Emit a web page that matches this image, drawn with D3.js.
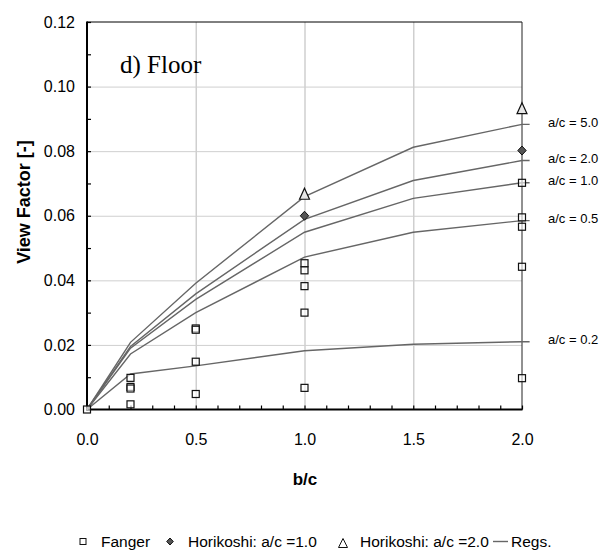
<!DOCTYPE html>
<html lang="en">
<head>
<meta charset="UTF-8">
<title>View Factor - Floor</title>
<script src="https://d3js.org/d3.v7.min.js"></script>
<style>
    body { margin: 0; background: #fff; }
    svg { display: block; }
    text { font-family: Arial, "Liberation Sans", sans-serif; fill: #000; }
    text.panel { font-family: "Times New Roman", "Liberation Serif", serif; }
</style>
</head>
<body>
<svg width="609" height="559"></svg>
<script>
    // b/c positions of the regression curves
    const bc = [0, 0.2, 0.5, 1.0, 1.5, 2.0];
    const regLabels = ["a/c = 5.0", "a/c = 2.0", "a/c = 1.0", "a/c = 0.5", "a/c = 0.2"];
    const reg50 = [0, 0.0208, 0.0391, 0.0659, 0.0812, 0.0883];
    const reg20 = [0, 0.0195, 0.0358, 0.0589, 0.0709, 0.0771];
    const reg10 = [0, 0.0190, 0.0341, 0.0549, 0.0654, 0.0702];
    const reg05 = [0, 0.0172, 0.0300, 0.0472, 0.0549, 0.0585];
    const reg02 = [0, 0.0110, 0.0135, 0.0182, 0.0202, 0.0210];

    // Fanger measurements
    const fangerBC = [0, 0.2, 0.2, 0.2, 0.2, 0.5, 0.5, 0.5, 0.5,
                      1.0, 1.0, 1.0, 1.0, 1.0, 2.0, 2.0, 2.0, 2.0, 2.0];
    const fangerVF = [0, 0.0098, 0.0070, 0.0065, 0.0016, 0.0251, 0.0247, 0.0148, 0.0048,
                      0.0453, 0.0431, 0.0382, 0.0300, 0.0067, 0.0702, 0.0595, 0.0566, 0.0442, 0.0097];

    // Horikoshi
    const horiBC = [1.0, 2.0];
    const hori10 = [0.0600, 0.0802];
    const hori20 = [0.0665, 0.0930];

    const xTicks = [0, 0.5, 1.0, 1.5, 2.0];
    const yTicks = [0, 0.02, 0.04, 0.06, 0.08, 0.10, 0.12];

    const svg = d3.select("svg");
    const mLeft = 87, mRight = 522, mTop = 22, mBottom = 409.5;

    const x = d3.scaleLinear().domain([0, 2]).range([mLeft, mRight]);
    const y = d3.scaleLinear().domain([0, 0.12]).range([mBottom, mTop]);

    // grid
    svg.append("g")
        .attr("transform", `translate(0,${mBottom})`)
        .call(d3.axisBottom(x).tickValues([0.5, 1.0, 1.5]).tickSize(-(mBottom - mTop)).tickFormat(""))
        .call(g => g.select(".domain").remove())
        .call(g => g.selectAll("line").attr("stroke", "#cfcfcf").attr("stroke-width", 1.5));
    svg.append("g")
        .attr("transform", `translate(${mLeft},0)`)
        .call(d3.axisLeft(y).tickValues([0.02, 0.04, 0.06, 0.08, 0.10]).tickSize(-(mRight - mLeft)).tickFormat(""))
        .call(g => g.select(".domain").remove())
        .call(g => g.selectAll("line").attr("stroke", "#cfcfcf").attr("stroke-width", 1));

    // frame (top and right)
    svg.append("line").attr("x1", mLeft).attr("x2", mRight).attr("y1", mTop).attr("y2", mTop)
        .attr("stroke", "#000").attr("stroke-width", 1);
    svg.append("line").attr("x1", mRight).attr("x2", mRight).attr("y1", mTop).attr("y2", mBottom)
        .attr("stroke", "#222").attr("stroke-width", 1);

    // minor ticks (inside)
    svg.append("g")
        .attr("transform", `translate(0,${mBottom})`)
        .call(d3.axisBottom(x).tickValues(d3.range(0, 2.001, 0.1)).tickSize(-4).tickFormat(""))
        .call(g => g.select(".domain").remove())
        .call(g => g.selectAll("line").attr("stroke", "#000").attr("stroke-width", 1.2));
    svg.append("g")
        .attr("transform", `translate(${mLeft},0)`)
        .call(d3.axisLeft(y).tickValues(d3.range(0, 0.1201, 0.01)).tickSize(-4).tickFormat(""))
        .call(g => g.select(".domain").remove())
        .call(g => g.selectAll("line").attr("stroke", "#000").attr("stroke-width", 1.2));

    // axis labels
    const xAxis = svg.append("g")
        .attr("transform", `translate(0,${mBottom})`)
        .call(d3.axisBottom(x).tickValues(xTicks).tickSize(0).tickPadding(24).tickFormat(d3.format(".1f")));
    xAxis.select(".domain").remove();
    xAxis.selectAll("text").attr("font-size", 16);

    const yAxis = svg.append("g")
        .attr("transform", `translate(${mLeft},0)`)
        .call(d3.axisLeft(y).tickValues(yTicks).tickSize(0).tickPadding(12).tickFormat(d3.format(".2f")));
    yAxis.select(".domain").remove();
    yAxis.selectAll("text").attr("font-size", 16);

    // left and bottom axis lines
    svg.append("line").attr("x1", mLeft).attr("x2", mLeft).attr("y1", mTop - 0.5).attr("y2", mBottom + 1)
        .attr("stroke", "#000").attr("stroke-width", 2);
    svg.append("line").attr("x1", mLeft - 1).attr("x2", mRight + 0.5).attr("y1", mBottom).attr("y2", mBottom)
        .attr("stroke", "#000").attr("stroke-width", 2);

    // regression curves
    const regs = [reg50, reg20, reg10, reg05, reg02];
    const line = d3.line().x(d => x(d[0])).y(d => y(d[1]));
    regs.forEach((vals, i) => {
        const pts = bc.map((b, j) => [b, vals[j]]);
        pts.push([2.035, vals[vals.length - 1]]);
        svg.append("path")
            .attr("d", line(pts))
            .attr("fill", "none")
            .attr("stroke", "#666")
            .attr("stroke-width", 1.4);
        svg.append("text")
            .attr("x", 548)
            .attr("y", y(vals[vals.length - 1]) - 2)
            .attr("dy", "0.35em")
            .attr("font-size", 13)
            .text(regLabels[i]);
    });

    // Fanger squares
    svg.append("g").selectAll("rect")
        .data(fangerBC.map((b, i) => [b, fangerVF[i]]))
        .join("rect")
        .attr("x", d => x(d[0]) - 3.5)
        .attr("y", d => y(d[1]) - 3.5)
        .attr("width", 7).attr("height", 7)
        .attr("fill", "#fff").attr("fill-opacity", 0.6)
        .attr("stroke", "#111").attr("stroke-width", 1.2);

    const diamond = "M0,-4.5L4.2,0L0,4.5L-4.2,0Z";
    const triangle = "M0,-6.5L5,4.5L-5,4.5Z";

    svg.append("g").selectAll("path")
        .data(horiBC.map((b, i) => [b, hori10[i]]))
        .join("path")
        .attr("d", diamond)
        .attr("transform", d => `translate(${x(d[0])},${y(d[1])})`)
        .attr("fill", "#555").attr("stroke", "#111").attr("stroke-width", 1);

    svg.append("g").selectAll("path")
        .data(horiBC.map((b, i) => [b, hori20[i]]))
        .join("path")
        .attr("d", triangle)
        .attr("transform", d => `translate(${x(d[0])},${y(d[1])})`)
        .attr("fill", "#e6e6e6").attr("stroke", "#111").attr("stroke-width", 1.2);

    // panel label
    svg.append("text")
        .attr("class", "panel")
        .attr("x", 120).attr("y", 73)
        .attr("font-size", 25)
        .text("d) Floor");

    // axis titles
    svg.append("text")
        .attr("transform", "translate(30,202) rotate(-90)")
        .attr("text-anchor", "middle")
        .attr("font-size", 18).attr("font-weight", "bold")
        .text("View Factor [-]");
    svg.append("text")
        .attr("x", 305).attr("y", 485)
        .attr("text-anchor", "middle")
        .attr("font-size", 17).attr("font-weight", "bold")
        .text("b/c");

    // legend
    const ly = 541.5;
    const lg = svg.append("g");
    lg.append("rect").attr("x", 80).attr("y", ly - 3).attr("width", 6).attr("height", 6)
        .attr("fill", "#fff").attr("stroke", "#111").attr("stroke-width", 1);
    lg.append("text").attr("x", 101).attr("y", ly).attr("dy", "0.35em").attr("font-size", 15.5).text("Fanger");
    lg.append("path").attr("d", "M0,-3.5L3.3,0L0,3.5L-3.3,0Z")
        .attr("transform", `translate(170,${ly})`).attr("fill", "#555").attr("stroke", "#111");
    lg.append("text").attr("x", 188).attr("y", ly).attr("dy", "0.35em").attr("font-size", 15.5).text("Horikoshi: a/c =1.0");
    lg.append("path").attr("d", "M0,-5L4.5,4L-4.5,4Z")
        .attr("transform", `translate(343,${ly + 2})`).attr("fill", "#fff").attr("stroke", "#111");
    lg.append("text").attr("x", 360).attr("y", ly).attr("dy", "0.35em").attr("font-size", 15.5).text("Horikoshi: a/c =2.0");
    lg.append("line").attr("x1", 493).attr("x2", 508).attr("y1", ly).attr("y2", ly)
        .attr("stroke", "#666").attr("stroke-width", 1.4);
    lg.append("text").attr("x", 511).attr("y", ly).attr("dy", "0.35em").attr("font-size", 15.5).text("Regs.");
</script>
</body>
</html>
